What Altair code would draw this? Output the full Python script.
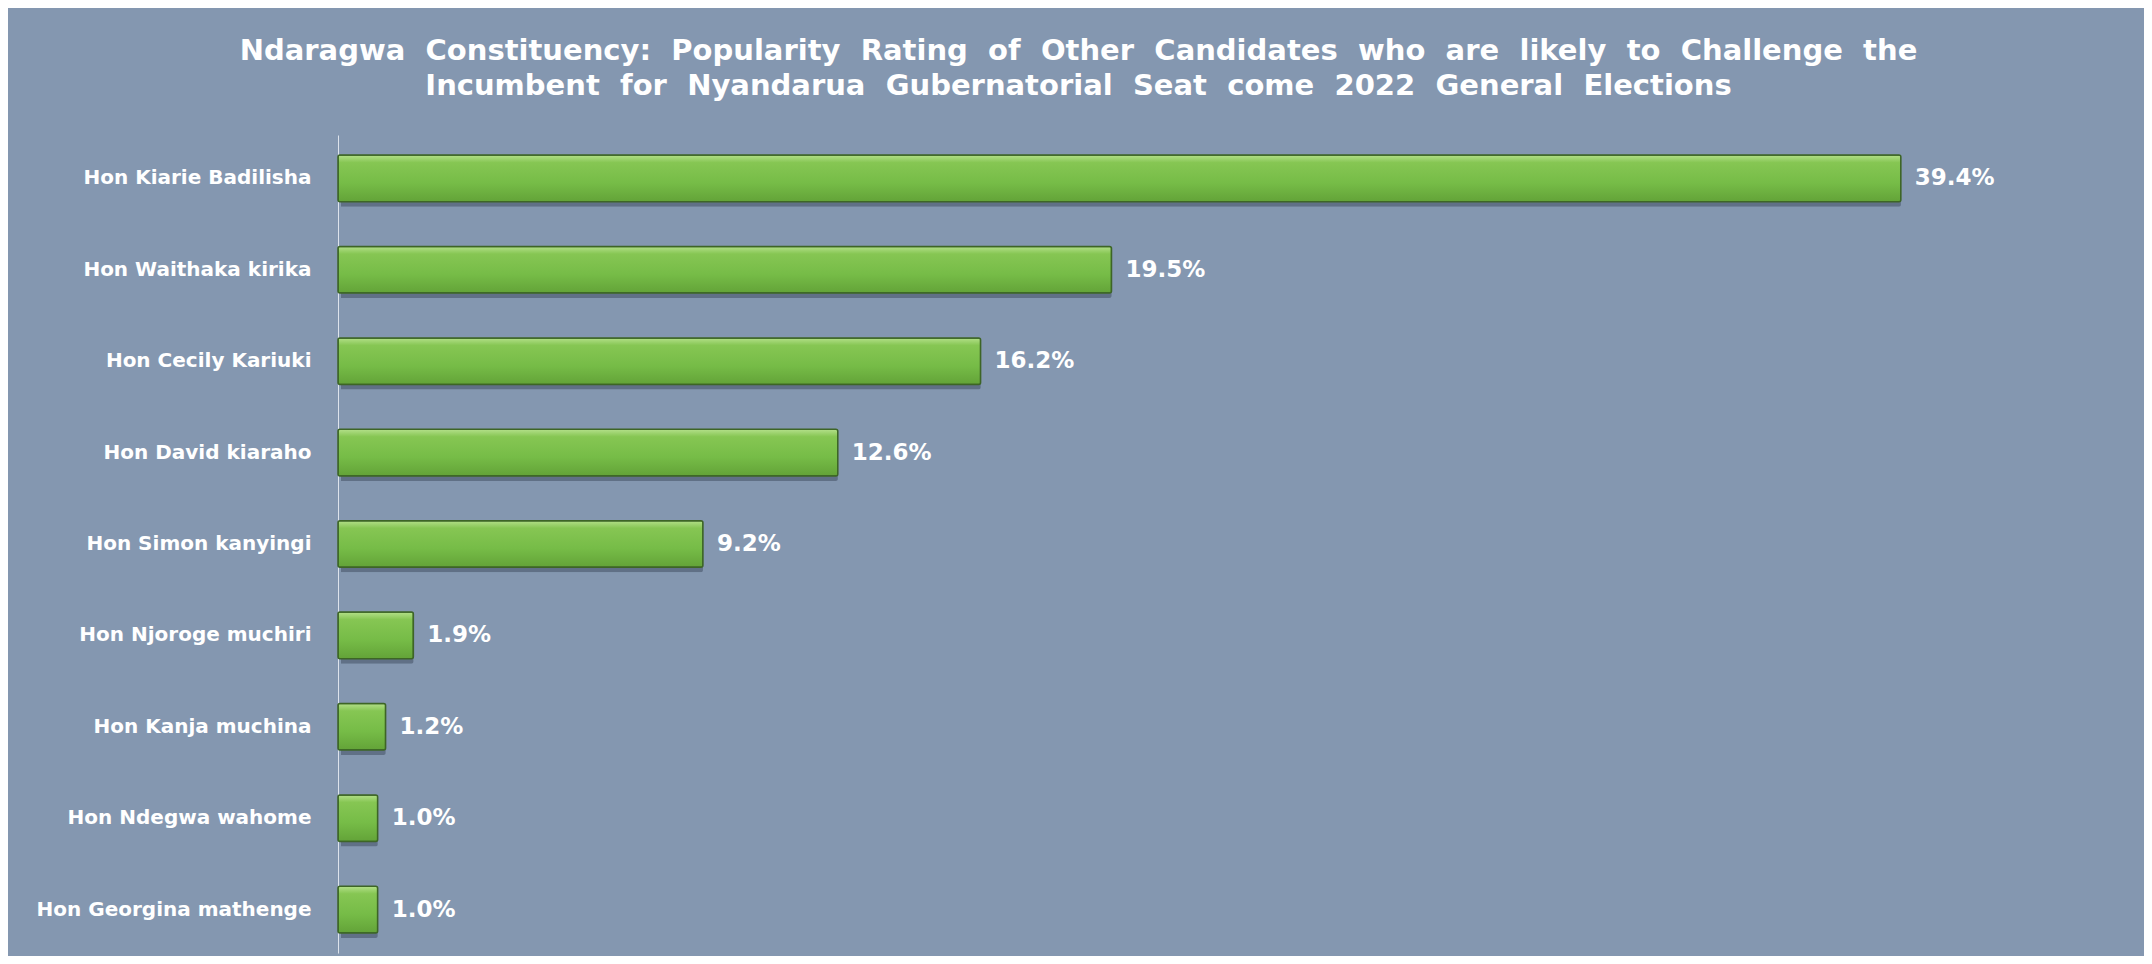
import altair as alt
import pandas as pd

candidates = [
    "Hon Kiarie Badilisha",
    "Hon Waithaka kirika",
    "Hon Cecily Kariuki",
    "Hon David kiaraho",
    "Hon Simon kanyingi",
    "Hon Njoroge muchiri",
    "Hon Kanja muchina",
    "Hon Ndegwa wahome",
    "Hon Georgina mathenge",
]
ratings = [39.4, 19.5, 16.2, 12.6, 9.2, 1.9, 1.2, 1.0, 1.0]
labels = [f"{v:.1f}%" for v in ratings]

title_lines = [
    "Ndaragwa Constituency: Popularity Rating of Other Candidates who are likely to Challenge the",
    "Incumbent for Nyandarua Gubernatorial Seat come 2022 General Elections",
]
# wide word gaps as in the original
title_lines = [t.replace(" ", "\u2002\u2009") for t in title_lines]

df = pd.DataFrame({"candidate": candidates, "rating": ratings, "label": labels})

BG = "#8497B0"

y_enc = alt.Y(
    "candidate:N",
    sort=candidates,
    title=None,
    scale=alt.Scale(paddingInner=0.49, paddingOuter=0.22),
    axis=alt.Axis(
        labelFont="DejaVu Sans",
        labelFontWeight="bold",
        labelFontSize=20,
        labelColor="white",
        labelPadding=27,
        labelLimit=600,
        ticks=False,
        domain=True,
        domainColor="#dde3ec",
        domainWidth=1,
        grid=False,
    ),
)
x_enc = alt.X(
    "rating:Q",
    scale=alt.Scale(domain=[0, 45], nice=False),
    axis=None,
)

base = alt.Chart(df)

shadow = base.mark_bar(
    color="#2b3849", opacity=0.4, xOffset=3, yOffset=5, cornerRadius=2
).encode(x=x_enc, y=y_enc)

bars = base.mark_bar(
    cornerRadius=2,
    stroke="#3d6526",
    strokeWidth=1.5,
    color=alt.Gradient(
        gradient="linear",
        x1=0, x2=0, y1=0, y2=1,
        stops=[
            alt.GradientStop(color="#b4e08a", offset=0),
            alt.GradientStop(color="#86c653", offset=0.16),
            alt.GradientStop(color="#76bc47", offset=0.6),
            alt.GradientStop(color="#63a338", offset=1),
        ],
    ),
).encode(x=x_enc, y=y_enc)

text = base.mark_text(
    align="left",
    baseline="middle",
    dx=14,
    font="DejaVu Sans",
    fontWeight="bold",
    fontSize=23,
    color="white",
).encode(x=x_enc, y=y_enc, text="label:N")

chart = (
    alt.layer(shadow, bars, text)
    .properties(
        width=1785,
        height=818,
        background=BG,
        padding={"left": 330, "top": 127, "right": 21, "bottom": 3},
        autosize=alt.AutoSizeParams(type="none"),
        title=alt.TitleParams(
            text=title_lines,
            font="DejaVu Sans",
            fontWeight="bold",
            fontSize=29,
            color="white",
            anchor="middle",
            dx=-152,
            offset=34,
            lineHeight=35,
        ),
    )
    .configure_view(stroke=None)
)

chart.save("out.html", embed_options={"renderer": "svg", "actions": False})
